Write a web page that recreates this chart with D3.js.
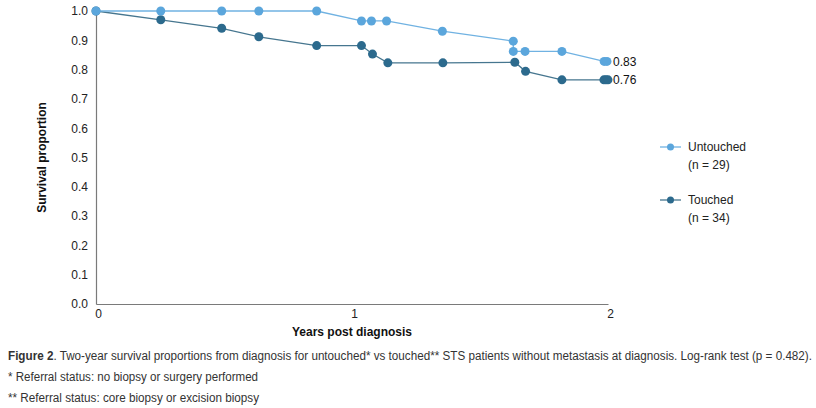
<!DOCTYPE html>
<html>
<head>
<meta charset="utf-8">
<script src="https://cdn.jsdelivr.net/npm/d3@7"></script>
<style>
  body { margin: 0; background: #fff; }
  svg { display: block; font-family: "Liberation Sans", Arial, sans-serif; }
</style>
</head>
<body>
<svg id="chart" width="816" height="408"></svg>
<script>
// Kaplan-Meier style points (years, survival proportion)
const untouchedYears = [0, 0.253, 0.491, 0.636, 0.862, 1.037, 1.076, 1.135, 1.353, 1.63, 1.63, 1.676, 1.82, 1.985, 1.996];
const untouchedSurv  = [1, 1, 1, 1, 1, 0.966, 0.966, 0.966, 0.931, 0.897, 0.862, 0.862, 0.862, 0.828, 0.828];

const touchedYears = [0, 0.253, 0.491, 0.636, 0.862, 1.037, 1.08, 1.14, 1.355, 1.636, 1.678, 1.82, 1.984, 1.992, 2.0];
const touchedSurv  = [1, 0.970, 0.941, 0.912, 0.882, 0.882, 0.853, 0.823, 0.823, 0.825, 0.794, 0.765, 0.765, 0.765, 0.765];

const yTicks = [0, 0.1, 0.2, 0.3, 0.4, 0.5, 0.6, 0.7, 0.8, 0.9, 1.0];
const xTicks = [0, 1, 2];

const seriesNames = ['Untouched', 'Touched'];
const seriesN = ['(n = 29)', '(n = 34)'];
const endLabels = ['0.83', '0.76'];

const captionLines = [
    'Two-year survival proportions from diagnosis for untouched* vs touched** STS patients without metastasis at diagnosis. Log-rank test (p = 0.482).',
    '* Referral status: no biopsy or surgery performed',
    '** Referral status: core biopsy or excision biopsy'
];

const colors = [
    { dot: '#5ba6dc', line: '#70b2e2' },
    { dot: '#2c6a8d', line: '#46768f' }
];

const svg = d3.select('#chart');
const margin = { left: 96, top: 11, right: 208, bottom: 104 };
const width = 816 - margin.left - margin.right;
const height = 408 - margin.top - margin.bottom;

const x = d3.scaleLinear().domain([0, 2]).range([margin.left, margin.left + width]);
const y = d3.scaleLinear().domain([0, 1]).range([margin.top + height, margin.top]);

// axes
const yAxis = d3.axisLeft(y).tickValues(yTicks).tickFormat(d3.format('.1f')).tickSize(0).tickPadding(8);
const xAxis = d3.axisBottom(x).tickValues(xTicks).tickFormat(d3.format('d')).tickSize(0).tickPadding(5);

const gy = svg.append('g').attr('transform', `translate(${margin.left},0)`).call(yAxis);
const gx = svg.append('g').attr('transform', `translate(0,${margin.top + height})`).call(xAxis);
[gx, gy].forEach(g => {
    g.select('.domain').attr('stroke', '#7a7a7a').attr('stroke-width', 1.2);
    g.selectAll('text').attr('font-size', 12).attr('fill', '#222').attr('font-family', '"Liberation Sans", Arial, sans-serif');
});
gx.selectAll('text').attr('dx', 2);

svg.append('text')
    .attr('transform', `translate(46,${margin.top + height / 2}) rotate(-90)`)
    .attr('text-anchor', 'middle')
    .attr('font-size', 12).attr('font-weight', 'bold').attr('fill', '#111')
    .text('Survival proportion');

svg.append('text')
    .attr('x', x(1)).attr('y', 336)
    .attr('text-anchor', 'middle')
    .attr('font-size', 12).attr('font-weight', 'bold').attr('fill', '#111')
    .text('Years post diagnosis');

// series
const series = [
    untouchedYears.map((t, i) => ({ t, s: untouchedSurv[i] })),
    touchedYears.map((t, i) => ({ t, s: touchedSurv[i] }))
];

const line = d3.line().x(d => x(d.t)).y(d => y(d.s));

series.slice().reverse().forEach((data, ri) => {
    const i = series.length - 1 - ri;
    const g = svg.append('g');
    g.append('path')
        .attr('d', line(data))
        .attr('fill', 'none')
        .attr('stroke', colors[i].line)
        .attr('stroke-width', 1.3);
    g.selectAll('circle').data(data).enter().append('circle')
        .attr('cx', d => x(d.t))
        .attr('cy', d => y(d.s))
        .attr('r', 4.5)
        .attr('fill', colors[i].dot);
    const last = data[data.length - 1];
    g.append('text')
        .attr('x', x(2) + 5).attr('y', y(last.s))
        .attr('dy', '0.35em')
        .attr('font-size', 12).attr('fill', '#111')
        .text(endLabels[i]);
});

// legend
const legend = svg.append('g').attr('transform', 'translate(660,147)');
seriesNames.forEach((name, i) => {
    const g = legend.append('g').attr('transform', `translate(0,${i * 53})`);
    g.append('line').attr('x1', 0).attr('x2', 21).attr('y1', 0).attr('y2', 0)
        .attr('stroke', colors[i].line).attr('stroke-width', 1.3);
    g.append('circle').attr('cx', 10.5).attr('cy', 0).attr('r', 3.5).attr('fill', colors[i].dot);
    g.append('text').attr('x', 28).attr('y', 0).attr('dy', '0.35em')
        .attr('font-size', 12).attr('fill', '#222').text(name);
    g.append('text').attr('x', 28).attr('y', 18).attr('dy', '0.35em')
        .attr('font-size', 12).attr('fill', '#222').text(seriesN[i]);
});

// caption
const cap = svg.append('g').attr('fill', '#333').attr('font-size', 12);
const first = cap.append('text').attr('x', 8).attr('y', 360)
    .attr('textLength', 804).attr('lengthAdjust', 'spacingAndGlyphs');
first.append('tspan').attr('font-weight', 'bold').text('Figure 2');
first.append('tspan').text('. ' + captionLines[0]);
cap.append('text').attr('x', 8).attr('y', 381)
    .attr('textLength', 250).attr('lengthAdjust', 'spacingAndGlyphs')
    .text(captionLines[1]);
cap.append('text').attr('x', 8).attr('y', 402)
    .attr('textLength', 251).attr('lengthAdjust', 'spacingAndGlyphs')
    .text(captionLines[2]);
</script>
</body>
</html>
